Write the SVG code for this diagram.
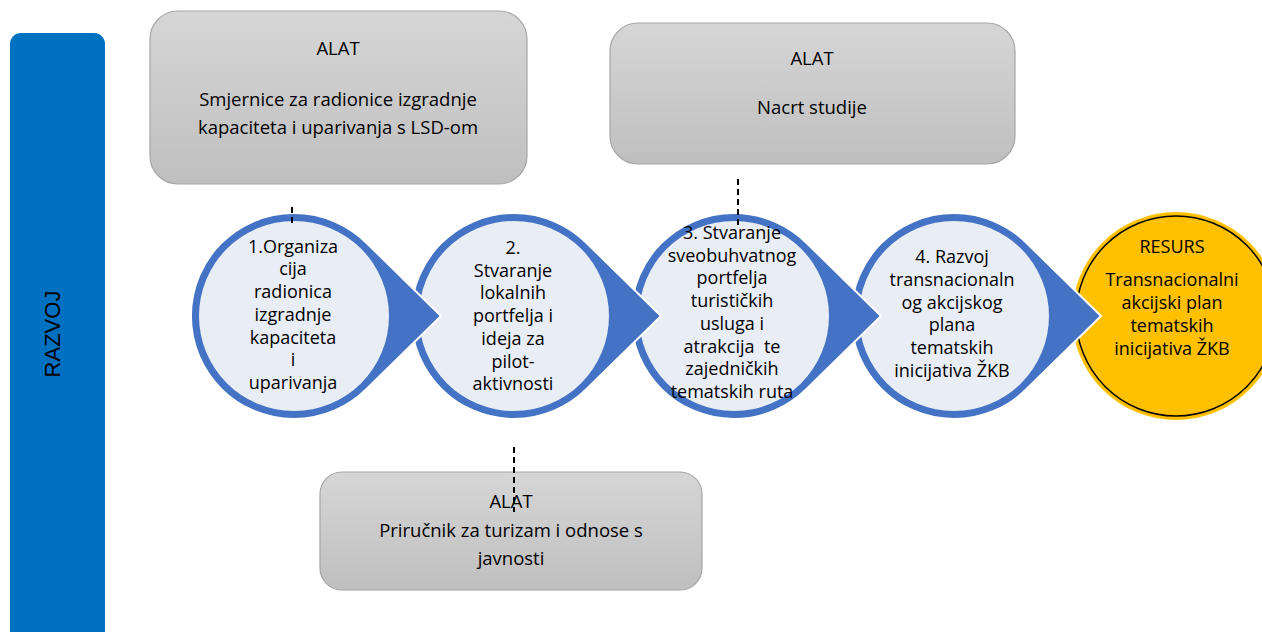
<svg xmlns="http://www.w3.org/2000/svg" width="1262" height="632" viewBox="0 0 1262 632">
<defs>
<linearGradient id="gray" x1="0" y1="0" x2="0" y2="1">
<stop offset="0" stop-color="#d6d6d6"/>
<stop offset="1" stop-color="#bfbfbf"/>
</linearGradient>
<path id="drop" d="M147 0 L72.8 -72.8 A103 103 0 1 0 72.8 72.8 Z"/>
</defs>
<style>
.box{fill:url(#gray);stroke:#a6a6a6;stroke-width:1.2}
.t{font-family:"Open Sans","Noto Sans",sans-serif;font-size:18px;fill:#000;text-anchor:middle}
.b{font-size:18.5px}
.drop{fill:#4472C4;stroke:#fff;stroke-width:2}
.inner{fill:#E9EDF6}
.dash{stroke:#000;stroke-width:2;stroke-dasharray:6 4;fill:none}
</style>
<g id="razvoj">
<rect x="10" y="33" width="95" height="640" rx="11" fill="#0070C0"/>
<text transform="translate(60 334) rotate(-90)" font-family="Liberation Sans,Arial,sans-serif" font-size="22" text-anchor="middle" fill="#000">RAZVOJ</text>
</g>
<g id="alat1">
<rect class="box" x="150" y="11" width="377" height="173" rx="28"/>
<text class="t b" x="338" y="55">ALAT</text>
<text class="t b" x="338" y="106">Smjernice za radionice izgradnje</text>
<text class="t b" x="338" y="134">kapaciteta i uparivanja s LSD-om</text>
</g>
<g id="alat2">
<rect class="box" x="610" y="23" width="405" height="141" rx="28"/>
<text class="t b" x="812" y="65">ALAT</text>
<text class="t b" x="812" y="114">Nacrt studije</text>
</g>
<g id="alat3">
<rect class="box" x="320" y="472" width="382" height="118" rx="22"/>
<text class="t b" x="511" y="508">ALAT</text>
<text class="t b" x="511" y="537">Priručnik za turizam i odnose s</text>
<text class="t b" x="511" y="565">javnosti</text>
</g>
<g id="resurs">
<circle cx="1176" cy="316" r="104" fill="#FFC000"/>
<circle cx="1176" cy="316" r="100" fill="none" stroke="#000" stroke-width="1.5"/>
<text class="t" x="1172" y="253">RESURS</text>
<text class="t" x="1172" y="286">Transnacionalni</text>
<text class="t" x="1172" y="309">akcijski plan</text>
<text class="t" x="1172" y="332">tematskih</text>
<text class="t" x="1172" y="355">inicijativa ŽKB</text>
</g>
<g id="step4">
<use href="#drop" class="drop" x="954" y="316"/>
<circle class="inner" cx="954" cy="316" r="95"/>
<text class="t" x="952" y="263">4. Razvoj</text>
<text class="t" x="952" y="286">transnacionaln</text>
<text class="t" x="952" y="309">og akcijskog</text>
<text class="t" x="952" y="331">plana</text>
<text class="t" x="952" y="354">tematskih</text>
<text class="t" x="952" y="377">inicijativa ŽKB</text>
</g>
<g id="step3">
<use href="#drop" class="drop" x="734" y="316"/>
<circle class="inner" cx="734" cy="316" r="95"/>
<text class="t" x="732" y="239">3. Stvaranje</text>
<text class="t" x="732" y="262">sveobuhvatnog</text>
<text class="t" x="732" y="284">portfelja</text>
<text class="t" x="732" y="307">turističkih</text>
<text class="t" x="732" y="330">usluga i</text>
<text class="t" x="732" y="353" xml:space="preserve">atrakcija  te</text>
<text class="t" x="732" y="375">zajedničkih</text>
<text class="t" x="732" y="398">tematskih ruta</text>
</g>
<g id="step2">
<use href="#drop" class="drop" x="514" y="316"/>
<circle class="inner" cx="514" cy="316" r="95"/>
<text class="t" x="513" y="254">2.</text>
<text class="t" x="513" y="277">Stvaranje</text>
<text class="t" x="513" y="299">lokalnih</text>
<text class="t" x="513" y="322">portfelja i</text>
<text class="t" x="513" y="345">ideja za</text>
<text class="t" x="513" y="368">pilot-</text>
<text class="t" x="513" y="390">aktivnosti</text>
</g>
<g id="step1">
<use href="#drop" class="drop" x="294" y="316"/>
<circle class="inner" cx="294" cy="316" r="95"/>
<text class="t" x="293" y="253">1.Organiza</text>
<text class="t" x="293" y="275">cija</text>
<text class="t" x="293" y="298">radionica</text>
<text class="t" x="293" y="321">izgradnje</text>
<text class="t" x="293" y="344">kapaciteta</text>
<text class="t" x="293" y="366">i</text>
<text class="t" x="293" y="389">uparivanja</text>
</g>
<g id="connectors">
<line class="dash" x1="292" y1="207" x2="292" y2="226"/>
<line class="dash" x1="738" y1="179" x2="738" y2="226"/>
<line class="dash" x1="514" y1="447" x2="514" y2="512"/>
</g>
</svg>
